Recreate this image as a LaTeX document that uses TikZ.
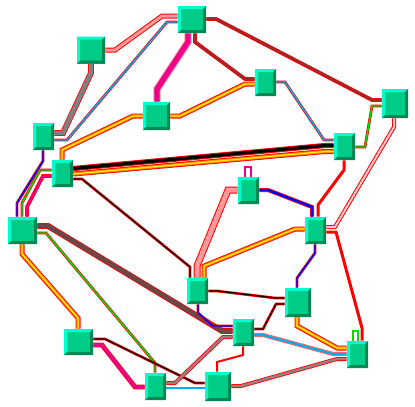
\documentclass[tikz,border=0pt]{standalone}
\usetikzlibrary{backgrounds}
\definecolor{bfill}{HTML}{00CC88}
\definecolor{blight}{HTML}{00FFCC}
\definecolor{bdark}{HTML}{008855}
\definecolor{pk}{HTML}{FF9999}
\definecolor{drc}{HTML}{A02828}
\definecolor{gdr}{HTML}{6A4848}
\definecolor{grr}{HTML}{998080}
\definecolor{grn}{HTML}{00DD00}
\definecolor{blkc}{HTML}{200000}
\tikzset{
  nodebox/.style 2 args={rectangle, inner sep=0pt, minimum width=#1*0.75pt, minimum height=#2*0.75pt, fill=bfill,
    path picture={
      \fill[blight] (path picture bounding box.south west) -- (path picture bounding box.north west) -- (path picture bounding box.north east)
        -- ([xshift=-2.25pt,yshift=-2.25pt]path picture bounding box.north east) -- ([xshift=2.25pt,yshift=-2.25pt]path picture bounding box.north west)
        -- ([xshift=2.25pt,yshift=2.25pt]path picture bounding box.south west) -- cycle;
      \fill[bdark] (path picture bounding box.north east) -- (path picture bounding box.south east) -- (path picture bounding box.south west)
        -- ([xshift=2.25pt,yshift=2.25pt]path picture bounding box.south west) -- ([xshift=-2.25pt,yshift=2.25pt]path picture bounding box.south east)
        -- ([xshift=-2.25pt,yshift=-2.25pt]path picture bounding box.north east) -- cycle;
    }},
  nb/.style={nodebox={21}{27}},
  sb/.style={nodebox={28}{27}},
  pinkA/.style={draw=red, line width=0.75pt, double=pk, double distance=2.25pt},
  pinkB/.style={draw=red, line width=0.75pt, double=pk, double distance=3.75pt},
  pinkC/.style={draw=red, line width=0.75pt, double=pk!50, double distance=1.5pt},
  cyanA/.style={draw=red, line width=0.5pt, double=cyan, double distance=1.1pt},
  cyanB/.style={draw=red!60, line width=0.75pt, double=cyan, double distance=1.6pt},
  grayA/.style={draw=red, line width=0.6pt, double=gray, double distance=3.2pt},
  magA/.style={draw=pk, line width=0.8pt, double=magenta, double distance=4pt},
  magB/.style={draw=red, line width=0.6pt, double=magenta, double distance=1.6pt},
  drA/.style={draw=red, line width=0.6pt, double=drc, double distance=1.6pt},
  blkA/.style={draw=red, line width=0.75pt, double=black, double distance=2.4pt},
  blkB/.style={draw=red, line width=0.5pt, double=blkc, double distance=1pt},
  ornA/.style={preaction={draw=red, line width=3.75pt}, draw=orange, line width=0.75pt, double=yellow, double distance=0.9pt},
  bluA/.style={draw=red, line width=0.5pt, double=blue, double distance=1.1pt},
  bluB/.style={draw=red, line width=0.6pt, double=blue, double distance=1.8pt},
  grnA/.style={draw=red, line width=0.5pt, double=grn, double distance=1.1pt},
  redA/.style={draw=red, line width=2.25pt},
  gdrA/.style={draw=red, line width=0.6pt, double=gdr, double distance=3.2pt},
  grrA/.style={draw=red, line width=0.6pt, double=grr, double distance=1.8pt},
  loopM/.style={draw=red, line width=0.6pt, double=magenta, double distance=0.9pt},
  loopG/.style={draw=red, line width=0.6pt, double=grn, double distance=0.9pt},
}
\begin{document}
\begin{tikzpicture}[x=0.75pt, y=-0.75pt]
\useasboundingbox (0,0) rectangle (415,407);
% nodes
\node[sb] (n1) at (192,19.5) {};
\node[sb] (n2) at (91,50) {};
\node[nb] (n3) at (43.5,136.5) {};
\node[nodebox={27}{28}] (n4) at (156.5,116) {};
\node[nb] (n5) at (62.5,173.5) {};
\node[nb] (n6) at (265.5,82.5) {};
\node[nodebox={26}{29}] (n7) at (395,103.5) {};
\node[nb] (n8) at (344.5,146.5) {};
\node[nb] (n9) at (248.5,190.5) {};
\node[nodebox={29}{27}] (n10) at (22.5,230.5) {};
\node[nb] (n11) at (315.5,230.5) {};
\node[nodebox={21}{26}] (n12) at (197.5,291) {};
\node[nodebox={26}{29}] (n13) at (298,302.5) {};
\node[nodebox={29}{26}] (n14) at (78.5,342) {};
\node[nb] (n15) at (243.5,332.5) {};
\node[nb] (n16) at (357.5,354.5) {};
\node[nb] (n17) at (155.5,386.5) {};
\node[nodebox={26}{29}] (n18) at (218,386.5) {};
% edges
\begin{scope}[on background layer]
\fill[white] (0,0) rectangle (415,407);
\draw[pinkA] (n1.west |- 0,16) -- (162,16) -- (115,50) -- (n2.east |- 0,50);
\draw[cyanA] (n1.west |- 0,22) -- (167,22) -- (67,140) -- (n3.east |- 0,140);
\draw[grayA] (n2.south -| 91,0) -- (91,73) -- (63,133) -- (n3.east |- 0,133);
\draw[magA] (n1.south -| 188,0) -- (188,42) -- (157,89) -- (n4.north -| 157,0);
\draw[drA] (n1.south -| 195,0) -- (195,42) -- (245,79) -- (n6.west |- 0,79);
\draw[drA] (n1.east |- 0,19) -- (216,19) -- (372,100) -- (n7.west |- 0,100);
\draw[ornA] (n4.east |- 0,116) -- (180,116) -- (245,84) -- (n6.west |- 0,84);
\draw[ornA] (n4.west |- 0,116) -- (133,116) -- (62,150) -- (n5.north -| 62,0);
\draw[cyanA] (n6.east |- 0,82) -- (285,82) -- (324,140) -- (n8.west |- 0,140);
\draw[blkA] (n5.east |- 0,168.5) -- (325,145.5) -- (n8.west |- 0,145.5);
\draw[ornA] (n5.east |- 0,174) -- (325,151.5) -- (n8.west |- 0,151.5);
\draw[blkB] (n5.east |- 0,179) -- (82,179) -- (190,267) -- (n12.north -| 190,0);
\draw[bluA] (n3.south -| 43,0) -- (43,161) -- (17,203) -- (n10.north -| 17,0);
\draw[grnA] (n5.west |- 0,170) -- (40,170) -- (22,203) -- (n10.north -| 22,0);
\draw[magB] (n5.west |- 0,176) -- (43,176) -- (27,207) -- (n10.north -| 27,0);
\draw[gdrA] (n10.east |- 0,226) -- (48,226) -- (222,331) -- (n15.west |- 0,331);
\draw[grnA] (n10.east |- 0,233) -- (46,233) -- (155,363) -- (n17.north -| 155,0);
\draw[ornA] (n10.south -| 22,0) -- (22,254) -- (78,318) -- (n14.north -| 78,0);
\draw[magB, double distance=2.4pt] (n14.east |- 0,345) -- (102,345) -- (135,387) -- (n17.west |- 0,387);
\draw[blkB] (n14.east |- 0,339) -- (105,339) -- (195,383) -- (n18.west |- 0,383);
\draw[grrA] (n17.east |- 0,383) -- (175,383) -- (223,337) -- (n15.west |- 0,337);
\draw[cyanA] (n17.east |- 0,388) -- (n18.west |- 0,388);
\draw[pinkB] (n12.north -| 197,0) -- (197,266) -- (228,190) -- (n9.west |- 0,190);
\draw[ornA] (n12.north -| 204,0) -- (204,266) -- (295,229) -- (n11.west |- 0,229);
\draw[bluB] (n9.east |- 0,190) -- (268,190) -- (312,207) -- (n11.north -| 312,0);
\draw[redA] (n8.south -| 344,0) -- (344,170) -- (318,205) -- (n11.north -| 318,0);
\draw[pinkC] (n7.south -| 394,0) -- (394,127) -- (335,227) -- (n11.east |- 0,227);
\draw[grnA] (n8.east |- 0,147) -- (365,147) -- (372,106) -- (n7.west |- 0,106);
\draw[redA] (n11.east |- 0,232) -- (336,232) -- (362,328) -- (n16.north -| 362,0);
\draw[bluA] (n11.south -| 315,0) -- (315,253) -- (297,278) -- (n13.north -| 297,0);
\draw[ornA] (n13.south -| 297,0) -- (297,326) -- (337,348) -- (n16.west |- 0,348);
\draw[blkB] (n12.east |- 0,291) -- (217,291) -- (275,298) -- (n13.west |- 0,298);
\draw[blkB] (n15.east |- 0,329) -- (263,329) -- (276,304) -- (n13.west |- 0,304);
\draw[cyanB] (n15.east |- 0,335) -- (263,335) -- (333,354) -- (n16.west |- 0,354);
\draw[redA, line width=1.5pt] (n15.south -| 243,0) -- (243,355) -- (217,362) -- (n18.north -| 217,0);
\draw[grrA] (n18.east |- 0,386) -- (241,386) -- (337,359) -- (n16.west |- 0,359);
\draw[bluA] (n12.south -| 198,0) -- (198,313) -- (213,326) -- (n15.west |- 0,326);
\draw[loopM] (n9.north -| 245,0) -- (245,167) -- (251,167) -- (n9.north -| 251,0);
\draw[loopG] (n16.north -| 353,0) -- (353,331) -- (358,331) -- (n16.north -| 358,0);
\end{scope}
\end{tikzpicture}
\end{document}
